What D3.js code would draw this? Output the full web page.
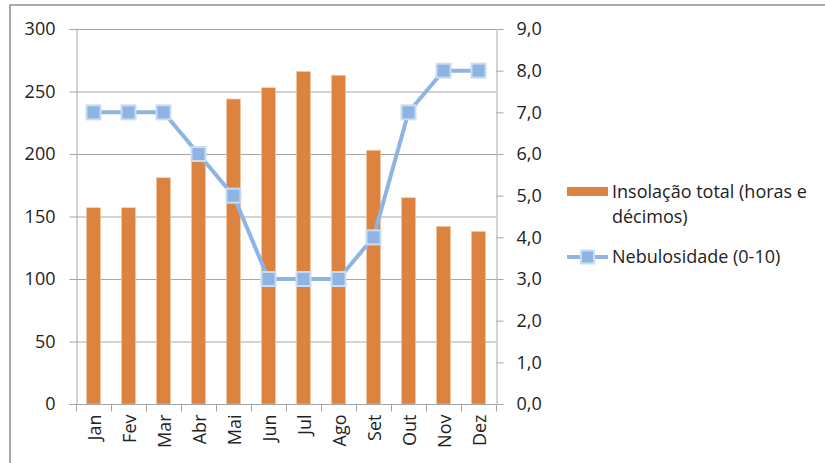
<!DOCTYPE html>
<meta charset="utf-8">
<style>
body { margin: 0; background: #fff; }
text { font-family: 'Open Sans', sans-serif; fill: #222; }
</style>
<body>
<svg width="825" height="463"></svg>
<script src="https://cdn.jsdelivr.net/npm/d3@7"></script>
<script>

// data
var months = ["Jan", "Fev", "Mar", "Abr", "Mai", "Jun", "Jul", "Ago", "Set", "Out", "Nov", "Dez"];
var insolacao = [157, 157, 181, 194, 244, 253, 266, 263, 203, 165, 142, 138];
var nebulosidade = [7, 7, 7, 6, 5, 3, 3, 3, 4, 7, 8, 8];
var leftTicks = [0, 50, 100, 150, 200, 250, 300];
var rightTicks = [0, 1, 2, 3, 4, 5, 6, 7, 8, 9];

var svg = d3.select("svg");
var plotL = 76, plotR = 496, plotT = 29, plotB = 404;
var barColor = "#DC843F", lineColor = "#8DB4E3";
var fs = "18px";

// outer frame (top and left edges only are visible)
svg.append("path")
    .attr("d", "M10,463 L10,5 L825,5")
    .attr("fill", "none")
    .attr("stroke", "#8f8f8f")
    .attr("stroke-width", 1.5);

var x = d3.scaleBand().domain(months).range([plotL, plotR])
    .paddingInner(0.6).paddingOuter(0.3);
var y = d3.scaleLinear().domain([0, 300]).range([plotB, plotT]);
var y2 = d3.scaleLinear().domain([0, 9]).range([plotB, plotT]);

// gridlines
svg.append("g").selectAll("line")
    .data(leftTicks.slice(1))
    .enter().append("line")
    .attr("x1", plotL).attr("x2", plotR)
    .attr("y1", function(d) { return y(d) + 0.5; })
    .attr("y2", function(d) { return y(d) + 0.5; })
    .attr("stroke", "#a6a6a6");

// left axis
var gl = svg.append("g")
    .attr("transform", "translate(" + (plotL + 0.5) + ",0)")
    .call(d3.axisLeft(y).tickValues(leftTicks).tickSize(7).tickPadding(14));
gl.selectAll("path, line").attr("stroke", "#a6a6a6");
gl.selectAll("text").style("font-size", fs).attr("fill", "#222")
    .style("font-family", "'Open Sans', sans-serif");

// right axis
var gr = svg.append("g")
    .attr("transform", "translate(" + (plotR + 0.5) + ",0)")
    .call(d3.axisRight(y2).tickValues(rightTicks).tickSize(7).tickPadding(13)
        .tickFormat(function(d) { return d3.format(".1f")(d).replace(".", ","); }));
gr.selectAll("path, line").attr("stroke", "#a6a6a6");
gr.selectAll("text").style("font-size", fs).attr("fill", "#222")
    .style("font-family", "'Open Sans', sans-serif");

// bars
svg.append("g").selectAll("rect")
    .data(insolacao)
    .enter().append("rect")
    .attr("x", function(d, i) { return x(months[i]); })
    .attr("y", function(d) { return y(d); })
    .attr("width", x.bandwidth())
    .attr("height", function(d) { return y(0) - y(d); })
    .attr("fill", barColor)
    .attr("stroke", "#f3c9a6")
    .attr("stroke-width", 0.6);

// bottom axis (category ticks at boundaries)
var gb = svg.append("g").attr("transform", "translate(0," + (plotB + 0.5) + ")");
gb.append("line").attr("x1", plotL).attr("x2", plotR).attr("stroke", "#a6a6a6");
var step = x.step();
gb.selectAll(".tk")
    .data(d3.range(months.length + 1))
    .enter().append("line")
    .attr("class", "tk")
    .attr("x1", function(i) { return plotL + i * step + 0.5; })
    .attr("x2", function(i) { return plotL + i * step + 0.5; })
    .attr("y1", 0).attr("y2", 7)
    .attr("stroke", "#a6a6a6");
gb.selectAll("text")
    .data(months)
    .enter().append("text")
    .attr("transform", function(d) {
        return "translate(" + (x(d) + x.bandwidth() / 2 + 7) + ",10) rotate(-90)";
    })
    .attr("text-anchor", "end")
    .style("font-size", fs)
    .text(function(d) { return d; });

// line series
var line = d3.line()
    .x(function(d, i) { return x(months[i]) + x.bandwidth() / 2; })
    .y(function(d) { return y2(d); });
svg.append("path")
    .datum(nebulosidade)
    .attr("d", line)
    .attr("fill", "none")
    .attr("stroke", lineColor)
    .attr("stroke-width", 4)
    .attr("stroke-linejoin", "round");

svg.append("g").selectAll("rect")
    .data(nebulosidade)
    .enter().append("rect")
    .attr("x", function(d, i) { return x(months[i]) + x.bandwidth() / 2 - 7; })
    .attr("y", function(d) { return y2(d) - 7; })
    .attr("width", 14).attr("height", 14)
    .attr("fill", lineColor)
    .attr("stroke", "#c9dcf3")
    .attr("stroke-width", 2);

// legend
var lg = svg.append("g");
lg.append("rect")
    .attr("x", 567).attr("y", 187).attr("width", 41).attr("height", 9)
    .attr("fill", barColor);
lg.append("text").attr("x", 612).attr("y", 198).style("font-size", fs)
    .text("Insolação total (horas e");
lg.append("text").attr("x", 612).attr("y", 223).style("font-size", fs)
    .text("décimos)");
lg.append("line")
    .attr("x1", 567).attr("x2", 608).attr("y1", 257).attr("y2", 257)
    .attr("stroke", lineColor).attr("stroke-width", 4);
lg.append("rect")
    .attr("x", 581).attr("y", 250.5).attr("width", 13).attr("height", 13)
    .attr("fill", lineColor).attr("stroke", "#c9dcf3").attr("stroke-width", 2);
lg.append("text").attr("x", 612).attr("y", 263).style("font-size", fs)
    .text("Nebulosidade (0-10)");

</script>
</body>
</html>
